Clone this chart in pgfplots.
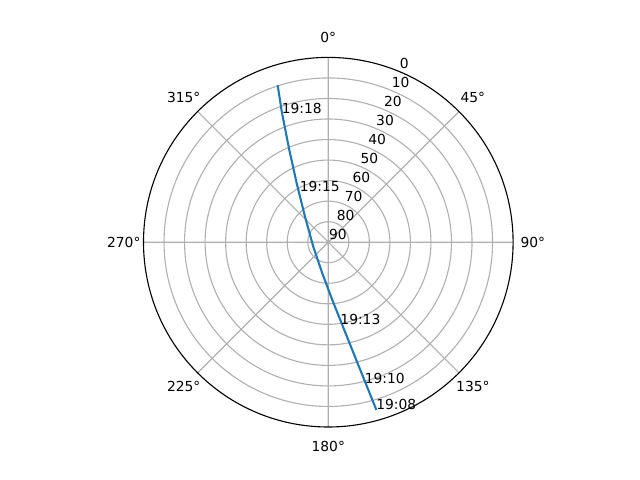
\documentclass[border=0pt]{standalone}
\usepackage{fontspec}
\setmainfont{DejaVu Sans}
\usepackage{pgfplots}
\pgfplotsset{compat=1.18}
\usepgfplotslibrary{polar}
\definecolor{mplblue}{RGB}{31,119,180}
\definecolor{mplgrid}{RGB}{176,176,176}
\begin{document}
\begin{tikzpicture}
\begin{polaraxis}[
  scale only axis, width=3.696in, height=3.696in,
  xmin=0, xmax=360, ymin=0, ymax=90,
  xtick={0,45,...,315}, xticklabels={},
  ytick={10,20,...,80}, yticklabels={},
  grid=major,
  major grid style={mplgrid, line width=0.8pt},
  separate axis lines,
  x axis line style={black, line width=0.8pt},
  y axis line style={draw=none},
  major tick length=0pt,
  clip=false,
]
\addplot[mplblue, line width=1.5pt] coordinates {
(107.87,80.3) (109.6,67.67) (112.93,48.75) (118.21,32.55) (132.43,16.82)
(196.7,7.63) (259.08,15.42) (273.96,28.22) (279.31,40.02) (283.85,62.45) (286.0,85.0)
};
\coordinate (O) at (axis cs:0,0);
\node at (axis cs:90,99.6) {0°};
\node at (axis cs:45,99.6) {45°};
\node at (axis cs:0,99.6) {90°};
\node at (axis cs:315,99.6) {135°};
\node at (axis cs:270,99.6) {180°};
\node at (axis cs:225,99.6) {225°};
\node at (axis cs:180,99.6) {270°};
\node at (axis cs:135,99.6) {315°};
\begin{scope}[every node/.style={anchor=west,inner sep=0pt,xshift=0.005in,yshift=0.08in}]
\node at (axis cs:67.5,90) {0};
\node at (axis cs:67.5,80) {10};
\node at (axis cs:67.5,70) {20};
\node at (axis cs:67.5,60) {30};
\node at (axis cs:67.5,50) {40};
\node at (axis cs:67.5,40) {50};
\node at (axis cs:67.5,30) {60};
\node at (axis cs:67.5,20) {70};
\node at (axis cs:67.5,10) {80};
\node at (axis cs:67.5,0) {90};
\end{scope}
\end{polaraxis}
\begin{scope}[every node/.style={anchor=base west,inner sep=0pt}]
\node at ([shift={(-0.468in,1.282in)}]O) {19:18};
\node at ([shift={(-0.288in,0.505in)}]O) {19:15};
\node at ([shift={(0.119in,-0.821in)}]O) {19:13};
\node at ([shift={(0.362in,-1.418in)}]O) {19:10};
\node at ([shift={(0.477in,-1.678in)}]O) {19:08};
\end{scope}
\pgfresetboundingbox
\path (O) ++(-3.283in,-2.378in) rectangle ++(6.4in,4.8in);
\end{tikzpicture}
\end{document}
